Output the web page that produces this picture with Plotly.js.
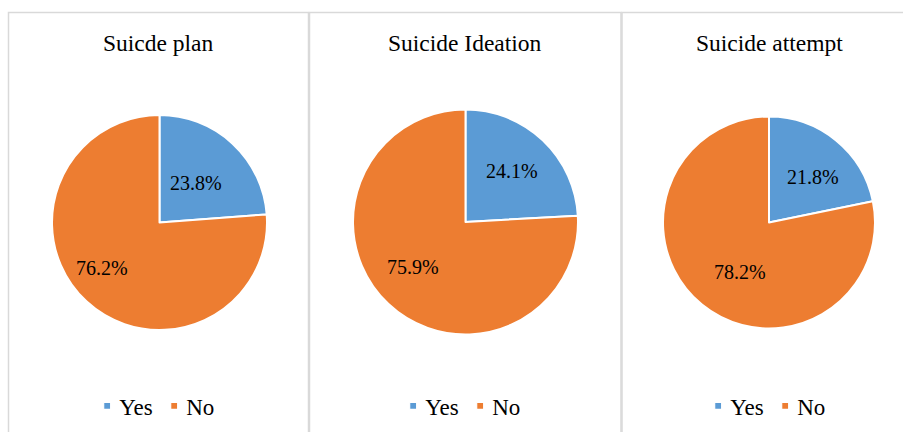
<!DOCTYPE html>
<html>
<head>
<meta charset="utf-8">
<script src="https://cdn.plot.ly/plotly-3.0.1.min.js"></script>
<style>
html,body{margin:0;padding:0;background:#fff;}
#chart{width:903px;height:432px;}
</style>
</head>
<body>
<div id="chart"></div>
<script>
const titles = ["Suicde plan", "Suicide Ideation", "Suicide attempt"];
const labels = ["Yes", "No"];
const planValues = [23.8, 76.2];
const ideationValues = [24.1, 75.9];
const attemptValues = [21.8, 78.2];
const colors = ["#5B9BD5", "#ED7D31"];

const W = 903, H = 432;
const FONT = "Liberation Serif";

// layout: pie centre/radius in px
const pies = [
  {cx: 159.5, cy: 222.5, r: 107.5, values: planValues, legend: "legend"},
  {cx: 465.5, cy: 222, r: 112.5, values: ideationValues, legend: "legend2"},
  {cx: 769, cy: 222.5, r: 106, values: attemptValues, legend: "legend3"}
];
// label placement (fraction of radius along slice mid-angle, plus small angle nudge in degrees)
const labelRadius = [[0.50, 0.68], [0.61, 0.61], [0.595, 0.54]];
const labelNudge = [[0, 9], [-1, 6], [5, -9]];
const panels = [[8.5, 308.5], [309.5, 621], [622, 910]];

// pie legend entries are shared by label, so each pie gets a distinct key (zero-width suffix)
const data = pies.map((p, i) => ({
  type: "pie",
  labels: labels.map(l => l + "\u200b".repeat(i)),
  values: p.values,
  sort: false,
  direction: "clockwise",
  rotation: 0,
  domain: {x: [(p.cx - p.r) / W, (p.cx + p.r) / W], y: [1 - (p.cy + p.r) / H, 1 - (p.cy - p.r) / H]},
  marker: {colors: colors, line: {color: "#ffffff", width: 2}},
  textinfo: "none",
  hoverinfo: "none",
  legend: p.legend,
  showlegend: true
}));

const legendX = [159, 465, 770];
function legendAt(i) {
  return {
    orientation: "h", x: legendX[i] / W, xanchor: "center", y: 1 - 406 / H, yanchor: "middle",
    font: {family: FONT, size: 23, color: "#000000"},
    bgcolor: "rgba(0,0,0,0)", itemclick: false, itemdoubleclick: false,
    traceorder: "normal", itemwidth: 30
  };
}

const titleX = [158, 465, 769];
const annotations = titles.map((t, i) => ({
  text: t, xref: "paper", yref: "paper", x: titleX[i] / W, y: 1 - 43 / H,
  xanchor: "center", yanchor: "middle", showarrow: false,
  font: {family: FONT, size: 23.5, color: "#000000"}
}));

// percentage labels, placed from the slice angles computed from the values
pies.forEach((p, i) => {
  const total = p.values.reduce((a, b) => a + b, 0);
  let cum = 0;
  p.values.forEach((v, j) => {
    const mid = (cum + v / 2) / total * 360 + labelNudge[i][j];
    cum += v;
    const rad = mid * Math.PI / 180;
    const d = labelRadius[i][j] * p.r;
    const x = p.cx + d * Math.sin(rad);
    const y = p.cy - d * Math.cos(rad);
    annotations.push({
      text: v.toFixed(1) + "%", xref: "paper", yref: "paper", x: x / W, y: 1 - y / H,
      xanchor: "center", yanchor: "middle", showarrow: false,
      font: {family: FONT, size: 20, color: "#000000"}
    });
  });
});

const shapes = panels.map(p => ({
  type: "rect", xref: "paper", yref: "paper",
  x0: p[0] / W, x1: p[1] / W, y0: -0.1, y1: 1 - 12.5 / H,
  line: {color: "#d9d9d9", width: 1.5}, fillcolor: "rgba(0,0,0,0)", layer: "below"
}));

const layout = {
  width: W, height: H,
  margin: {l: 0, r: 0, t: 0, b: 0},
  paper_bgcolor: "#ffffff",
  plot_bgcolor: "#ffffff",
  showlegend: true,
  legend: legendAt(0),
  legend2: legendAt(1),
  legend3: legendAt(2),
  annotations: annotations,
  shapes: shapes
};

const TR = /translate\(\s*([-\d.e]+)[ ,]+([-\d.e]+)\s*\)/;

// compact Excel-like legend: small squares, tight spacing (idempotent)
function tidyLegends() {
  const legends = gd.querySelectorAll(".infolayer > g[class^='legend']");
  legends.forEach((lg, li) => {
    const items = lg.querySelectorAll("g.traces");
    items.forEach((item, k) => {
      const path = item.querySelector(".legendpoints path");
      if (path) {
        const cur = path.getAttribute("transform") || "";
        const base = cur.replace(/\s*scale\([^)]*\)/g, "");
        path.setAttribute("transform", base + " scale(0.58)");
      }
      const txt = item.querySelector("text");
      if (txt) txt.setAttribute("x", 32);
      if (k > 0) {
        const cur = item.getAttribute("transform") || "";
        if (item.dataset.orig === undefined || item.dataset.set !== cur) item.dataset.orig = cur;
        const m = item.dataset.orig.match(TR);
        if (m) {
          const nt = "translate(" + (parseFloat(m[1]) - 11.5 * k) + "," + m[2] + ")";
          item.setAttribute("transform", nt);
          item.dataset.set = nt;
        }
      }
    });
    let minX = Infinity, maxX = -Infinity;
    items.forEach(item => {
      item.querySelectorAll(".legendpoints path, text").forEach(el => {
        const b = el.getBoundingClientRect();
        if (b.width > 0) { minX = Math.min(minX, b.left); maxX = Math.max(maxX, b.right); }
      });
    });
    const gbox = gd.getBoundingClientRect();
    const centre = (minX + maxX) / 2 - gbox.left;
    const t = lg.getAttribute("transform") || "";
    const m = t.match(TR);
    if (m && isFinite(centre)) lg.setAttribute("transform", "translate(" + (parseFloat(m[1]) + legendX[li] - centre) + "," + m[2] + ")");
  });
}

const gd = document.getElementById("chart");
Plotly.newPlot(gd, data, layout, {displayModeBar: false, staticPlot: true}).then(() => {
  tidyLegends();
  requestAnimationFrame(() => requestAnimationFrame(tidyLegends));
  setTimeout(tidyLegends, 50);
});
</script>
</body>
</html>
